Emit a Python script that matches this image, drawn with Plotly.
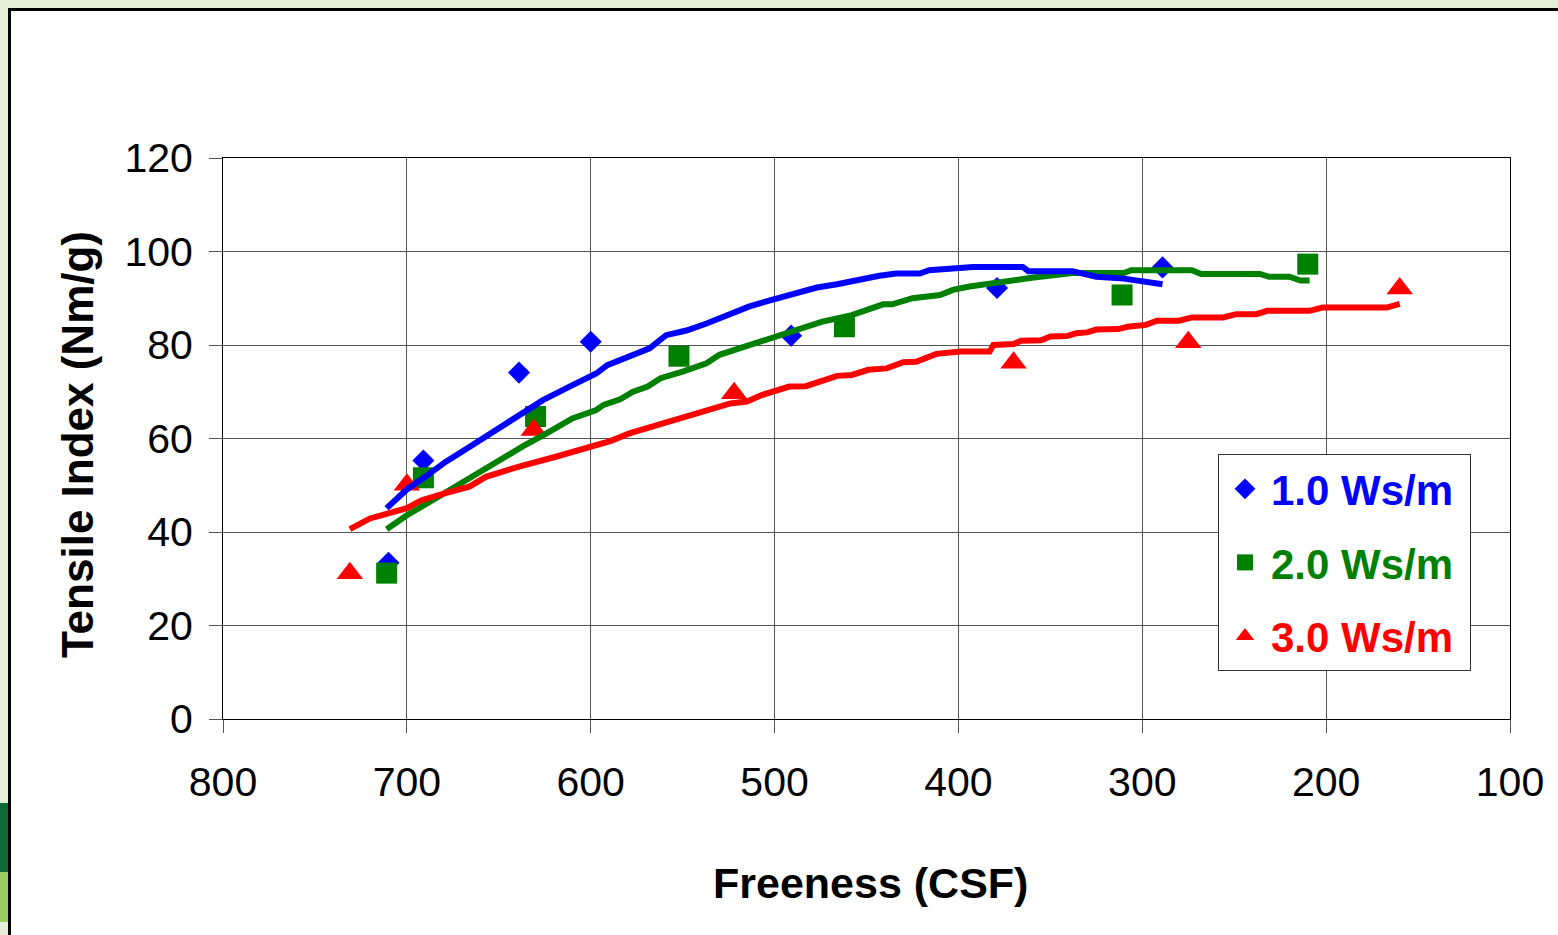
import plotly.graph_objects as go

# ---------------- data ----------------
series_names = ["1.0 Ws/m", "2.0 Ws/m", "3.0 Ws/m"]
series_colors = ["#0000FF", "#008000", "#FF0000"]
series_symbols = ["diamond", "square", "triangle-up"]

# measured points
pts_x_1 = [710, 691, 639, 600, 491, 379, 289]
pts_y_1 = [33.4, 55.3, 74.1, 80.7, 82.0, 92.2, 96.6]
pts_x_2 = [711, 691, 630, 552, 462, 311, 210]
pts_y_2 = [31.2, 51.6, 64.7, 77.6, 83.9, 90.7, 97.3]
pts_x_3 = [731, 700, 631, 522, 370, 275, 160]
pts_y_3 = [31.2, 50.1, 61.8, 69.7, 76.2, 80.6, 92.1]

# fitted curves
fit_x_1 = [711, 700, 690, 679, 666, 652, 639, 626, 611, 597, 591, 579, 568, 559, 548, 537,
           524, 514, 503, 492, 477, 466, 456, 443, 434, 421, 416, 392, 365, 362, 338, 325,
           310, 300, 294, 289]
fit_y_1 = [45.1, 49.1, 51.8, 55.0, 58.2, 61.8, 65.0, 68.2, 71.2, 73.9, 75.7, 77.6, 79.3, 82.1,
           83.1, 84.6, 86.8, 88.2, 89.5, 90.7, 92.3, 93.0, 93.9, 94.8, 95.3, 95.3, 96.0, 96.7,
           96.7, 95.8, 95.8, 94.6, 94.2, 93.6, 93.0, 93.0]
fit_x_2 = [711, 700, 689, 674, 661, 648, 637, 624, 610, 597, 593, 584, 577, 569, 562, 550,
           537, 530, 519, 507, 496, 485, 474, 458, 441, 436, 425, 410, 403, 394, 372, 360,
           338, 310, 306, 273, 268, 236, 231, 220, 214, 209]
fit_y_2 = [40.6, 43.6, 46.1, 49.7, 52.6, 55.8, 58.3, 61.1, 64.3, 66.1, 67.2, 68.4, 70.0, 71.1,
           72.9, 74.3, 76.1, 77.9, 79.3, 80.9, 82.1, 83.6, 85.0, 86.4, 88.7, 88.7, 90.0, 90.7,
           91.8, 92.5, 93.9, 94.4, 95.4, 95.4, 96.0, 96.0, 95.2, 95.2, 94.6, 94.6, 93.8, 93.8]
fit_x_3 = [731, 720, 700, 692, 679, 666, 657, 639, 619, 597, 589, 579, 564, 550, 535, 524,
           515, 507, 492, 483, 466, 458, 449, 439, 430, 423, 412, 399, 383, 381, 370, 366,
           355, 350, 341, 336, 330, 325, 313, 308, 298, 292, 280, 273, 256, 249, 238, 232,
           209, 202, 167, 160]
fit_y_3 = [40.6, 42.9, 45.1, 46.8, 48.3, 49.7, 51.8, 54.0, 56.1, 58.6, 59.5, 61.1, 62.9, 64.7,
           66.2, 67.5, 67.9, 69.3, 71.1, 71.2, 73.4, 73.6, 74.7, 75.0, 76.3, 76.4, 78.1, 78.6,
           78.6, 80.0, 80.2, 80.9, 81.0, 81.8, 81.9, 82.5, 82.7, 83.3, 83.4, 83.9, 84.3, 85.2,
           85.2, 85.9, 85.9, 86.6, 86.6, 87.3, 87.3, 88.0, 88.0, 88.8]

x_ticks = [800, 700, 600, 500, 400, 300, 200, 100]
y_ticks = [0, 20, 40, 60, 80, 100, 120]

# ---------------- layout geometry ----------------
W, H = 1558, 935
L, R, T, B = 223, 1510, 158, 719
PW, PH = R - L, B - T


def px(xp):
    return (xp - L) / PW


def py(yp):
    return (B - yp) / PH


FONT = "Liberation Sans, Arial, sans-serif"

fig = go.Figure()

pts = [(pts_x_1, pts_y_1), (pts_x_2, pts_y_2), (pts_x_3, pts_y_3)]
fits = [(fit_x_1, fit_y_1), (fit_x_2, fit_y_2), (fit_x_3, fit_y_3)]
msizes = [17, 21, 23]

for i in range(3):
    fig.add_trace(go.Scatter(
        x=pts[i][0], y=pts[i][1], mode="markers",
        name=f"<span style='color:{series_colors[i]}'><b>{series_names[i]}</b>&nbsp;</span>",
        legendgroup=f"g{i}",
        marker=dict(symbol=series_symbols[i], size=msizes[i], color=series_colors[i],
                    line=dict(width=0)),
    ))

for i in [1, 2, 0]:
    fig.add_trace(go.Scatter(
        x=fits[i][0], y=fits[i][1], mode="lines", showlegend=False,
        line=dict(color=series_colors[i], width=6, shape="linear"),
        hoverinfo="skip",
    ))

shapes = [
    # white panel with black border
    dict(type="rect", xref="paper", yref="paper", layer="below",
         x0=px(9.5), x1=px(1700), y0=py(1100), y1=py(9.5),
         fillcolor="white", line=dict(color="black", width=3)),
    # decorative green blocks at the left edge
    dict(type="rect", xref="paper", yref="paper", layer="below",
         x0=px(0), x1=px(8), y0=py(872), y1=py(803),
         fillcolor="#0A6B35", line=dict(width=0)),
    dict(type="rect", xref="paper", yref="paper", layer="below",
         x0=px(0), x1=px(8), y0=py(922), y1=py(872),
         fillcolor="#9ACD62", line=dict(width=0)),
]

annotations = [
    dict(text="<b>Freeness (CSF)</b>", xref="paper", yref="paper",
         x=px(870), y=py(883), xanchor="center", yanchor="middle", showarrow=False,
         font=dict(family=FONT, size=43, color="black")),
    dict(text="<b>Tensile Index (Nm/g)</b>", xref="paper", yref="paper",
         x=px(77), y=py(445), xanchor="center", yanchor="middle", showarrow=False,
         textangle=-90, font=dict(family=FONT, size=44, color="black")),
]

fig.update_layout(
    width=W, height=H,
    margin=dict(l=L, r=W - R, t=T, b=H - B, pad=0),
    paper_bgcolor="#E5EFD7",
    plot_bgcolor="white",
    font=dict(family=FONT, color="black"),
    shapes=shapes,
    annotations=annotations,
    showlegend=True,
    legend=dict(
        x=px(1218), y=py(454), xanchor="left", yanchor="top",
        bgcolor="white", bordercolor="#333333", borderwidth=1,
        font=dict(family=FONT, size=42),
        tracegroupgap=16, traceorder="grouped",
        itemsizing="trace", itemwidth=42,
    ),
    xaxis=dict(
        range=[800, 100], autorange=False,
        tickmode="array", tickvals=x_ticks, ticktext=[str(v) for v in x_ticks],
        tickfont=dict(family=FONT, size=41, color="black"),
        showgrid=True, gridcolor="#555555", gridwidth=1,
        showline=True, linecolor="black", linewidth=1, mirror=True,
        ticks="outside", ticklen=13, tickcolor="#555555", tickwidth=1,
        zeroline=False, ticklabelstandoff=14,
    ),
    yaxis=dict(
        range=[0, 120], autorange=False,
        tickmode="array", tickvals=y_ticks, ticktext=[str(v) for v in y_ticks],
        tickfont=dict(family=FONT, size=41, color="black"),
        showgrid=True, gridcolor="#555555", gridwidth=1,
        showline=True, linecolor="black", linewidth=1, mirror=True,
        ticks="outside", ticklen=13, tickcolor="#555555", tickwidth=1,
        zeroline=False, ticklabelstandoff=8,
    ),
)

fig.write_html("out.html", config={"displayModeBar": False},
               post_script="document.body.style.margin='0';")
